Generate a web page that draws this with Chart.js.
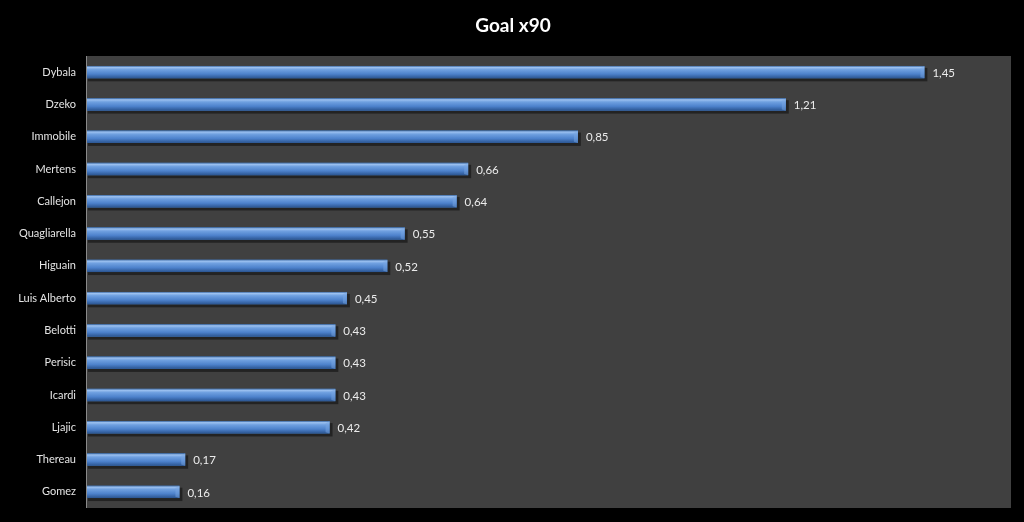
<!DOCTYPE html>
<html>
<head>
<meta charset="utf-8">
<script src="https://cdn.jsdelivr.net/npm/chart.js@4/dist/chart.umd.min.js"></script>
<style>
  html, body { margin: 0; padding: 0; background: #000; }
  #wrap { width: 1024px; height: 522px; position: relative; }
</style>
</head>
<body>
<div id="wrap"><canvas id="c" width="1024" height="522"></canvas></div>
<script>
const chartTitle = "Goal x90";
const players = ["Dybala", "Dzeko", "Immobile", "Mertens", "Callejon", "Quagliarella", "Higuain", "Luis Alberto", "Belotti", "Perisic", "Icardi", "Ljajic", "Thereau", "Gomez"];
const goalsPer90 = [1.45, 1.21, 0.85, 0.66, 0.64, 0.55, 0.52, 0.45, 0.43, 0.43, 0.43, 0.42, 0.17, 0.16];
const axisMax = 1.6;

const FONT = "Lato, 'Open Sans', sans-serif";

const plotBg = {
  id: 'plotBg',
  beforeDraw(chart) {
    const { ctx, chartArea: a } = chart;
    ctx.save();
    ctx.fillStyle = '#000';
    ctx.fillRect(0, 0, chart.width, chart.height);
    ctx.fillStyle = '#404040';
    ctx.fillRect(a.left, a.top, a.right - a.left, a.bottom - a.top);
    ctx.strokeStyle = '#8a8a8a';
    ctx.lineWidth = 1;
    ctx.beginPath();
    ctx.moveTo(a.left - 0.5, a.top);
    ctx.lineTo(a.left - 0.5, a.bottom);
    ctx.stroke();
    ctx.fillStyle = '#fff';
    ctx.font = "bold 19px " + FONT;
    ctx.textAlign = 'center';
    ctx.textBaseline = 'middle';
    ctx.fillText(chartTitle, chart.width / 2 + 1, 26);
    ctx.restore();
  },
  beforeDatasetsDraw(chart) {
    const { ctx } = chart;
    const meta = chart.getDatasetMeta(0);
    ctx.save();
    meta.data.forEach(el => {
      const x0 = Math.min(el.base, el.x), x1 = Math.max(el.base, el.x);
      const top = el.y - el.height / 2;
      ctx.fillStyle = 'rgba(0,0,0,0.45)';
      ctx.fillRect(x0 + 1, top + 2, x1 - x0 + 2, el.height + 1);
    });
    ctx.restore();
  },
  afterDatasetsDraw(chart) {
    const { ctx } = chart;
    const meta = chart.getDatasetMeta(0);
    const data = chart.data.datasets[0].data;
    ctx.save();
    meta.data.forEach((el, i) => {
      const x0 = Math.min(el.base, el.x), x1 = Math.max(el.base, el.x);
      const top = el.y - el.height / 2, h = el.height;
      const g = ctx.createLinearGradient(0, top, 0, top + h);
      g.addColorStop(0, '#3b68a3');
      g.addColorStop(0.12, '#9cc1f0');
      g.addColorStop(0.3, '#6fa0e0');
      g.addColorStop(0.65, '#4d82cc');
      g.addColorStop(1, '#2a5490');
      ctx.fillStyle = g;
      ctx.fillRect(x0, top, x1 - x0, h);
      const bw = Math.min(4, (x1 - x0) / 3);
      ctx.fillStyle = 'rgba(120,165,225,0.5)';
      ctx.beginPath();
      ctx.moveTo(x1 - bw, top + bw * 0.6);
      ctx.lineTo(x1, top);
      ctx.lineTo(x1, top + h);
      ctx.lineTo(x1 - bw, top + h - bw * 0.3);
      ctx.closePath();
      ctx.fill();
      ctx.fillStyle = '#ececec';
      ctx.font = "11.5px " + FONT;
      ctx.textAlign = 'left';
      ctx.textBaseline = 'middle';
      ctx.fillText(data[i].toFixed(2).replace('.', ','), x1 + 8, el.y + 1);
    });
    ctx.restore();
  }
};

new Chart(document.getElementById('c'), {
  type: 'bar',
  data: {
    labels: players,
    datasets: [{
      data: goalsPer90,
      backgroundColor: '#4F81BD',
      borderWidth: 0,
      barPercentage: 0.4,
      categoryPercentage: 0.96
    }]
  },
  options: {
    indexAxis: 'y',
    responsive: false,
    animation: false,
    devicePixelRatio: 1,
    layout: { padding: { top: 56, right: 13, bottom: 14, left: 0 } },
    plugins: { legend: { display: false }, tooltip: { enabled: false }, title: { display: false } },
    scales: {
      x: {
        display: false,
        min: 0,
        max: axisMax
      },
      y: {
        afterFit(scale) { scale.width = 87; scale.paddingTop = 0; scale.paddingBottom = 0; },
        grid: { display: false, drawTicks: false },
        border: { display: false },
        ticks: {
          color: '#e4e4e4',
          font: { family: FONT, size: 11 },
          padding: 11,
          autoSkip: false
        }
      }
    }
  },
  plugins: [plotBg]
});
</script>
</body>
</html>
